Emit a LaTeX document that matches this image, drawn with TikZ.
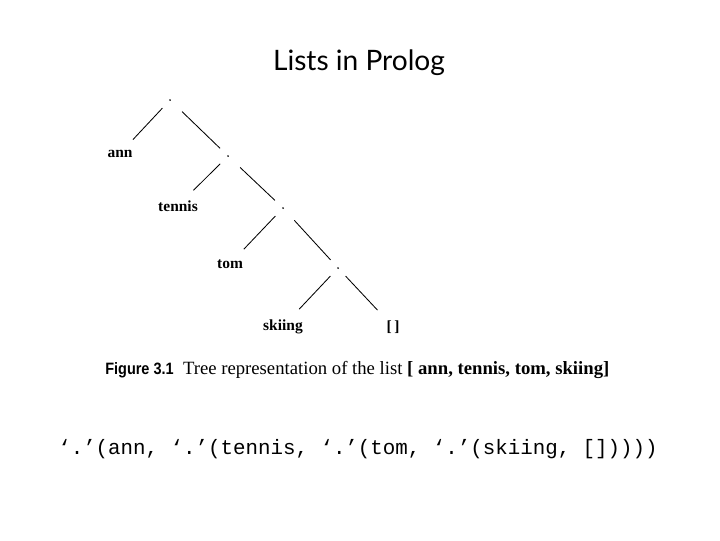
\documentclass[tikz,border=0pt]{standalone}
\usepackage{fontspec}
\setmainfont{Liberation Serif}
\setsansfont{Lato}
\setmonofont{Liberation Mono}
\newfontfamily\capsans{Liberation Sans}
\tikzset{
  consdot/.style={circle, fill, inner sep=0.5pt},
  leaf/.style={anchor=base, font=\fontsize{11}{13}\selectfont\bfseries},
  branch/.style={line width=0.6pt, shorten <=7pt, shorten >=5pt},
  spine/.style={line width=0.6pt, shorten <=11pt, shorten >=7pt}
}
\begin{document}
\begin{tikzpicture}[x=0.025cm, y=-0.025cm]
    \useasboundingbox (0,0) rectangle (720,540);

    % Title
    \node (title) at (359,70) [anchor=base, font=\sffamily\fontsize{20}{24}\selectfont] {Lists in Prolog};

    % Dots of the list cells
    \node (d1) at (170,100) [consdot] {};
    \node (d2) at (228,156) [consdot] {};
    \node (d3) at (283,208) [consdot] {};
    \node (d4) at (338,268) [consdot] {};

    % Elements
    \node (ann)    at (120,157) [leaf] {ann};
    \node (tennis) at (178,211) [leaf] {tennis};
    \node (tom)    at (230,268) [leaf] {tom};
    \node (skiing) at (283,330) [leaf] {skiing};
    \node (nil)    at (393,331) [leaf] {[\,]};

    % Branches
    \foreach \a/\b in {d1/ann, d2/tennis, d3/tom, d4/skiing, d4/nil} {
        \draw[branch] (\a) -- (\b);
    }
    \foreach \a/\b in {d1/d2, d2/d3, d3/d4} {
        \draw[spine] (\a) -- (\b);
    }

    % Caption
    \node (caption) at (105,374) [anchor=base west, inner sep=0pt, font=\fontsize{13.3}{15}\selectfont]
        {{\capsans\bfseries\fontsize{11.7}{15}\selectfont\addfontfeatures{FakeStretch=0.88}Figure 3.1}\ \ Tree representation of the list \textbf{[ ann, tennis, tom, skiing]}};

    % Term
    \node (term) at (58,454) [anchor=base west, inner sep=0pt, font=\ttfamily\fontsize{14.8}{18}\selectfont]
        {‘.’(ann, ‘.’(tennis, ‘.’(tom, ‘.’(skiing, []))))};
\end{tikzpicture}
\end{document}
